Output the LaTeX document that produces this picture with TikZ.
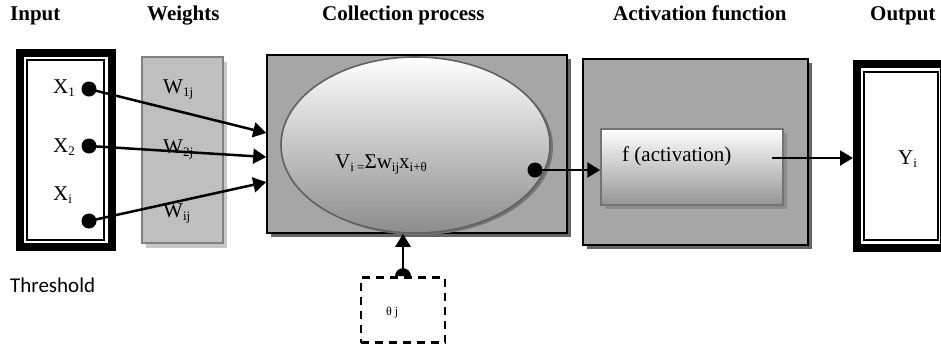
\documentclass[tikz,border=0pt]{standalone}
\usepackage{fontspec}
\setmainfont{Liberation Serif}
\newfontfamily\thrfont{Carlito}
\usetikzlibrary{arrows.meta,shadows,shapes.geometric}

% lowered small text for subscripts
\newcommand\lowsub[1]{\raisebox{-3pt}{\fontsize{13}{13}\selectfont #1}}

\begin{document}
\begin{tikzpicture}[x=1pt,y=-1pt,
  title/.style={font=\fontsize{21}{21}\selectfont\bfseries, anchor=base west, inner sep=0},
  lbl/.style={font=\fontsize{21}{21}\selectfont, anchor=base west, inner sep=0},
  conn/.style={line width=2.5pt, -{Triangle[length=13pt,width=15pt]}},
  dotnode/.style={circle, fill=black, minimum size=15pt, inner sep=0},
  framebox/.style={draw, line width=8pt, inner sep=0},
  thinbox/.style={draw, line width=1.5pt, inner sep=0, fill=white},
  graybox/.style={draw, line width=1.6pt, inner sep=0, fill=black!35,
    drop shadow={shadow xshift=4pt, shadow yshift=-4pt, fill=black!60, opacity=1}},
  shadedbox/.style={draw=black!55, line width=1.5pt, inner sep=0, top color=white, bottom color=black!42,
    drop shadow={shadow xshift=4pt, shadow yshift=-4pt, fill=black!45, opacity=1}},
]
\useasboundingbox (0,0) rectangle (941,349);

% column titles
\node[title] (tin) at (10,20.5) {Input};
\node[title] (tw) at (147,20.5) {Weights};
\node[title] (tc) at (322,20.5) {Collection process};
\node[title] (ta) at (613,20.5) {Activation function};
\node[title] (to) at (870,20.5) {Output};

% input frame
\node[framebox, minimum width=92pt, minimum height=194pt] (inbox) at (66,150) {};
\node[thinbox, minimum width=77pt, minimum height=180pt] (ininner) at (65.5,150) {};

% weights column
\node[draw=black!50, line width=1.5pt, fill=black!25, inner sep=0,
  minimum width=81pt, minimum height=186pt,
  drop shadow={shadow xshift=4pt, shadow yshift=-5pt, fill=black!22, opacity=1}] (wbox) at (182.5,150) {};

% collection process
\node[graybox, minimum width=300pt, minimum height=178pt] (cbox) at (417,144) {};
\node[ellipse, draw=black!62, line width=1.6pt, top color=white, bottom color=black!45,
  minimum width=269pt, minimum height=176pt, inner sep=0,
  drop shadow={shadow xshift=3pt, shadow yshift=-2pt, fill=black!55, opacity=1}] (ell) at (415.5,145) {};
\node[lbl] (formula) at (335,168) {V\lowsub{i =}Σw\lowsub{ij}x\lowsub{i+θ}};

% activation function
\node[graybox, minimum width=225pt, minimum height=186pt] (abox) at (695.5,152) {};
\node[shadedbox, minimum width=182pt, minimum height=76pt] (fbox) at (692,167) {};
\node[lbl] (ftext) at (622,161) {f (activation)};

% output frame
\node[framebox, minimum width=87pt, minimum height=184pt] (outbox) at (900.5,156) {};
\node[thinbox, minimum width=74pt, minimum height=168pt] (outinner) at (901,156) {};
\node[lbl] (ytext) at (898,164) {Y\lowsub{i}};

% input labels
\node[lbl] (lx1) at (53,93) {X\lowsub{1}};
\node[lbl] (lx2) at (53,152) {X\lowsub{2}};
\node[lbl] (lxi) at (53,200) {X\lowsub{i}};

% weight labels
\node[lbl] (lw1) at (163,93) {W\lowsub{1j}};
\node[lbl] (lw2) at (163,153) {W\lowsub{2j}};
\node[lbl] (lwi) at (163,217) {W\lowsub{ij}};

% connection dots
\node[dotnode] (x1) at (89,89) {};
\node[dotnode] (x2) at (89,146) {};
\node[dotnode] (xi) at (89,221) {};
\node[dotnode] (edot) at (535,170) {};

% arrow end points
\coordinate (in1) at (267,133);
\coordinate (in2) at (267,157);
\coordinate (in3) at (267,182);
\coordinate (fout) at (772,158);

\draw[conn] (x1.center) -- (cbox.west |- in1);
\draw[conn] (x2.center) -- (cbox.west |- in2);
\draw[conn] (xi.center) -- (cbox.west |- in3);
\draw[conn] (edot.center) -- (edot.center -| fbox.west);
\draw[conn] (fout) -- (fout -| outbox.west);

% threshold
\node[font=\thrfont\fontsize{21}{21}\selectfont, anchor=base west, inner sep=0] (thr) at (10,292) {Threshold};
\node[draw, line width=2.6pt, dash pattern=on 8pt off 6pt, inner sep=0,
  minimum width=84pt, minimum height=65pt] (thetabox) at (403,310) {};
\node[font=\fontsize{12}{12}\selectfont, anchor=base west, inner sep=0] (theta) at (386,315) {θ j};
\fill (thetabox.north) ++(-8,0) arc[start angle=180, end angle=360, radius=8] -- cycle;
\draw[conn] (thetabox.north) -- (thetabox.north |- cbox.south);

\end{tikzpicture}
\end{document}
